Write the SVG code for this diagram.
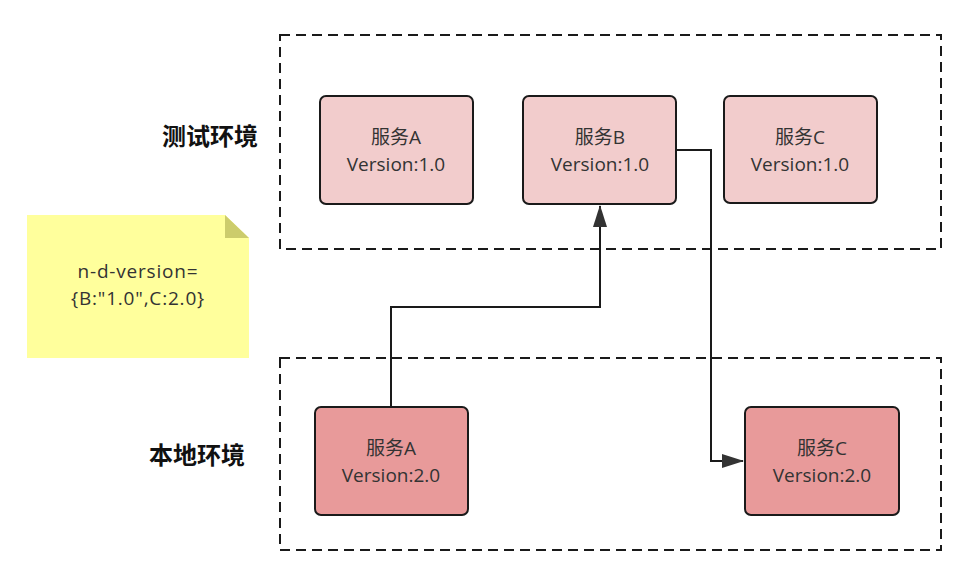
<svg xmlns="http://www.w3.org/2000/svg" width="971" height="580" viewBox="0 0 971 580">
<defs>
<style>
.env{fill:none;stroke:#1a1a1a;stroke-width:2;stroke-dasharray:10 6}
.svc1{fill:#f2cccc;stroke:#1a1a1a;stroke-width:2}
.svc2{fill:#e89a9a;stroke:#1a1a1a;stroke-width:2}
.t{font-family:"Open Sans","Noto Sans CJK SC",sans-serif;font-size:19px;fill:#333;text-anchor:middle}
.n{font-family:"Open Sans","Noto Sans CJK SC",sans-serif;font-size:19px;fill:#333;text-anchor:middle;letter-spacing:0.8px}
.lbl{font-family:"Noto Sans CJK SC",sans-serif;font-size:24px;font-weight:bold;fill:#111;text-anchor:middle}
.edge{fill:none;stroke:#1a1a1a;stroke-width:2}
</style>
<marker id="arr" markerWidth="22" markerHeight="14" refX="21" refY="7" orient="auto" markerUnits="userSpaceOnUse">
<path d="M0,0 L22,7 L0,14 Z" fill="#333"/>
</marker>
</defs>
<rect width="971" height="580" fill="#fff"/>
<g id="env-test">
<rect class="env" x="280" y="35" width="661" height="214"/>
<text class="lbl" x="210" y="145">测试环境</text>
</g>
<g id="env-local">
<rect class="env" x="280" y="358" width="661" height="192"/>
<text class="lbl" x="197" y="464">本地环境</text>
</g>
<g id="note">
<path d="M27,215 L225,215 L249,238 L249,358 L27,358 Z" fill="#ffff9c"/>
<path d="M225,215 L225,238 L249,238 Z" fill="#cccc6c"/>
<text class="n" x="138" y="278">n-d-version=</text>
<text class="n" x="138" y="305">{B:"1.0",C:2.0}</text>
</g>
<g id="svcA1">
<rect class="svc1" x="320" y="96" width="153" height="108" rx="6"/>
<text class="t" x="396" y="144">服务A</text>
<text class="t" x="396" y="171">Version:1.0</text>
</g>
<g id="svcB1">
<rect class="svc1" x="523" y="96" width="153" height="108" rx="6"/>
<text class="t" x="600" y="144">服务B</text>
<text class="t" x="600" y="171">Version:1.0</text>
</g>
<g id="svcC1">
<rect class="svc1" x="724" y="96" width="153" height="107" rx="6"/>
<text class="t" x="800" y="144">服务C</text>
<text class="t" x="800" y="171">Version:1.0</text>
</g>
<g id="svcA2">
<rect class="svc2" x="315" y="407" width="153" height="108" rx="6"/>
<text class="t" x="391" y="455">服务A</text>
<text class="t" x="391" y="482">Version:2.0</text>
</g>
<g id="svcC2">
<rect class="svc2" x="745" y="407" width="154" height="108" rx="6"/>
<text class="t" x="822" y="455">服务C</text>
<text class="t" x="822" y="482">Version:2.0</text>
</g>
<g id="connectors">
<path class="edge" d="M391,407 L391,307 L600,307 L600,206" marker-end="url(#arr)"/>
<path class="edge" d="M676,150 L711,150 L711,461 L743,461" marker-end="url(#arr)"/>
</g>
</svg>
